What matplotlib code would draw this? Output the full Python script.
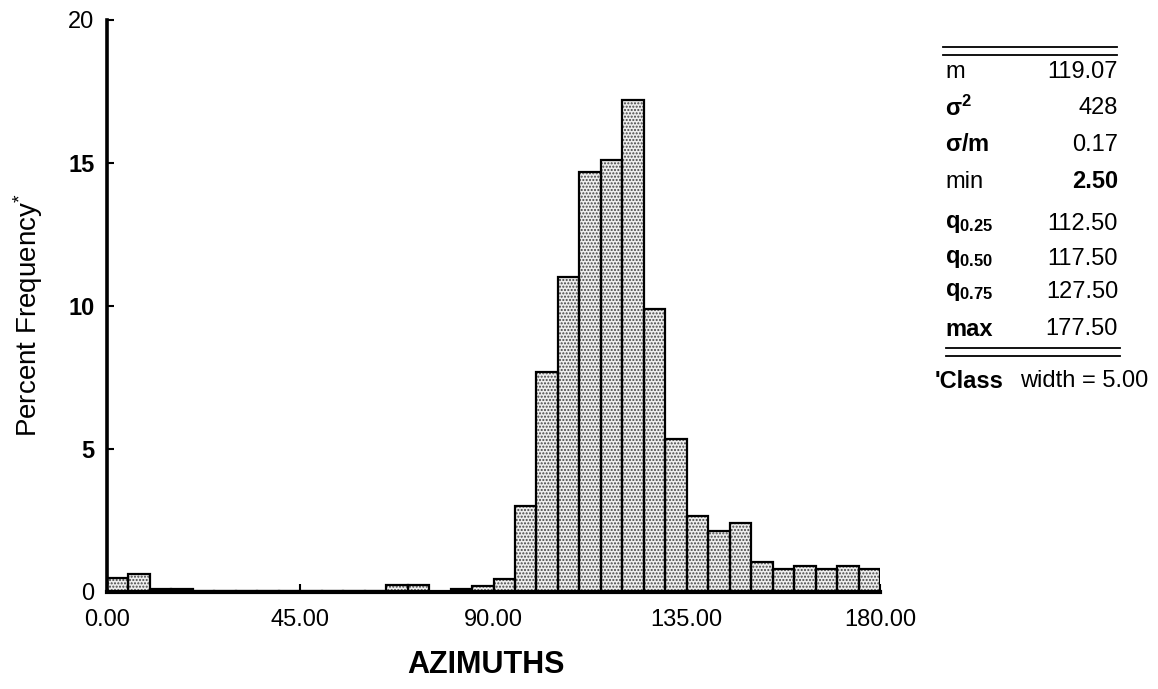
import matplotlib.pyplot as plt
from matplotlib.lines import Line2D
import numpy as np

plt.rcParams['font.family'] = ['Liberation Sans', 'DejaVu Sans']
plt.rcParams['mathtext.fontset'] = 'custom'
plt.rcParams['mathtext.rm'] = 'Liberation Sans'
plt.rcParams['mathtext.it'] = 'Liberation Sans:italic'
plt.rcParams['mathtext.bf'] = 'Liberation Sans:bold'

# 5-degree classes, 0..180
bin_left = np.arange(0, 180, 5)
percent = [0.50, 0.62, 0.10, 0.10, 0.04, 0.02, 0.02, 0.02, 0.02,
           0.02, 0.02, 0.02, 0.02, 0.25, 0.25, 0.00, 0.10, 0.20,
           0.45, 3.00, 7.70, 11.00, 14.70, 15.10, 17.20, 9.90, 5.35,
           2.65, 2.15, 2.40, 1.05, 0.80, 0.90, 0.80, 0.90, 0.80]

x_ticks = [0, 45, 90, 135, 180]
x_ticklabels = ['0.00', '45.00', '90.00', '135.00', '180.00']
y_ticks = [0, 5, 10, 15, 20]

stat_labels = ['m', r'$\mathbf{\sigma^2}$', r'$\mathbf{\sigma/m}$', 'min',
               r'$\mathbf{q_{0.25}}$', r'$\mathbf{q_{0.50}}$', r'$\mathbf{q_{0.75}}$', 'max']
stat_values = ['119.07', '428', '0.17', '2.50', '112.50', '117.50', '127.50', '177.50']

W, H = 1158, 689
fig = plt.figure(figsize=(W / 100, H / 100), dpi=100)
ax = fig.add_axes([107 / W, 1 - 592 / H, (880 - 107) / W, (592 - 20) / H])


def fx(px):
    return px / W


def fy(py):
    return 1 - py / H


# stipple fill, then black outlines
ax.bar(bin_left, percent, width=5, align='edge', facecolor='#eeeeee',
       edgecolor='#444444', hatch='.....', linewidth=0, zorder=2)
ax.bar(bin_left, percent, width=5, align='edge', facecolor='none',
       edgecolor='black', linewidth=1.6, zorder=3)

ax.set_xlim(0, 180)
ax.set_ylim(0, 20)
for s in ['top', 'right']:
    ax.spines[s].set_visible(False)
ax.spines['left'].set_linewidth(2.6)
ax.spines['bottom'].set_linewidth(3.0)
ax.spines['bottom'].set_zorder(4)

ax.set_xticks(x_ticks)
ax.set_xticklabels(x_ticklabels, fontsize=17)
ax.set_yticks(y_ticks)
ax.set_yticklabels([str(v) for v in y_ticks], fontsize=17)
for lab in ax.get_yticklabels():
    if lab.get_text() in ('5', '10', '15'):
        lab.set_fontweight('bold')
ax.tick_params(axis='x', direction='in', length=6, width=1.5, pad=12)
ax.tick_params(axis='y', direction='in', length=5, width=1.5, pad=9)

fig.text(fx(486), fy(673), 'AZIMUTHS', fontsize=22, fontweight='bold',
         ha='center', va='baseline')
fig.text(fx(37), fy(437), r'Percent Frequency$^{*}$', fontsize=20, rotation=90,
         rotation_mode='anchor', ha='left', va='baseline')

# statistics table
for py in (47, 55):
    fig.add_artist(Line2D([fx(943), fx(1117)], [fy(py), fy(py)], color='black', lw=1.3))
for py in (348, 356):
    fig.add_artist(Line2D([fx(946), fx(1120)], [fy(py), fy(py)], color='black', lw=1.3))

row_y = [72, 108, 145, 182, 224, 259, 292, 329]
for lab, val, py in zip(stat_labels, stat_values, row_y):
    lw = 'bold' if lab == 'max' else 'normal'
    fig.text(fx(945), fy(py), lab, fontsize=17, fontweight=lw, ha='left', va='center')
    vw = 'bold' if lab == 'min' else 'normal'
    fig.text(fx(1118), fy(py), val, fontsize=17, fontweight=vw, ha='right', va='center')

fig.text(fx(935), fy(381), "'Class", fontsize=17, fontweight='bold', ha='left', va='center')
fig.text(fx(1148), fy(381), 'width = 5.00', fontsize=17, ha='right', va='center')

fig.savefig('out.png', dpi=100)
